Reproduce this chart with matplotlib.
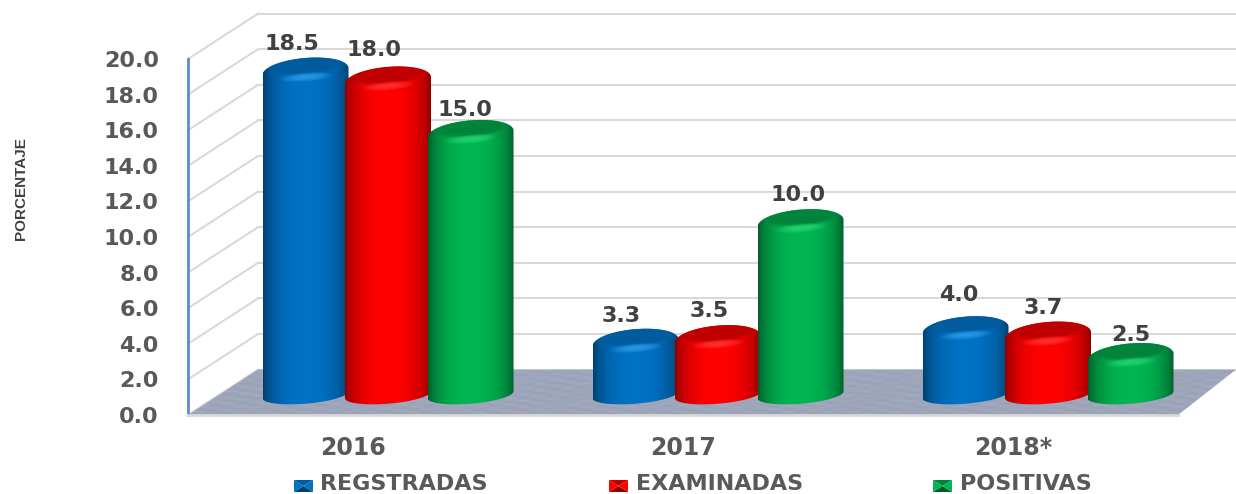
import matplotlib
matplotlib.use("Agg")
import matplotlib.pyplot as plt
import numpy as np
from matplotlib.patches import Polygon

# Data
years = ["2016", "2017", "2018*"]
registradas = [18.5, 3.3, 4.0]
examinadas = [18.0, 3.5, 3.7]
positivas = [15.0, 10.0, 2.5]
series_names = ["REGSTRADAS", "EXAMINADAS", "POSITIVAS"]
y_ticks = [0, 2, 4, 6, 8, 10, 12, 14, 16, 18, 20]

# Styles: (dark edge, body, top cap, highlight)
blue = ("#003f6e", "#0072c4", "#005c9e", "#2fa0ee")
red = ("#8e0000", "#ff0000", "#c00000", "#ff3a3a")
green = ("#005c2a", "#00b652", "#00843c", "#28d678")

# Label offsets in pixels, by series then year
label_dx = [[-14, -14, -7], [-14, -9, -5], [-6, -2, 0]]
label_dy = [[27, 27, 35], [30, 28, 28], [24, 28, 22]]

W, H = 1236, 494
fig = plt.figure(figsize=(W / 100, H / 100), dpi=100, facecolor="white")

# Front plane of the chart, value 0 to 20
ax = fig.add_axes([188 / W, 1 - 415 / H, 990 / W, 356 / H], facecolor="none")
ax.set_xlim(-0.5, 2.5)
ax.set_ylim(0, 20)
depth_x = 70 / 330
depth_y = 2.55
right_end = 2.5 + 58 / 330

# Walls
for v in y_ticks:
    ax.plot([-0.5, -0.5 + depth_x], [v, v + depth_y], color="#d9d9d9", lw=1.5, clip_on=False, zorder=1)
    ax.plot([-0.5 + depth_x, right_end], [v + depth_y, v + depth_y], color="#d9d9d9", lw=1.5, clip_on=False, zorder=1)

# Floor
xx, yy = np.meshgrid(np.linspace(0, 1, 500), np.linspace(0, 1, 30))
m1 = np.sin(xx * 211) * np.sin(yy * 47 + xx * 90)
m2 = np.sin(xx * 137 + yy * 31) * np.cos(yy * 71 - xx * 53)
floor_img = np.dstack([0.62 + 0.035 * m1, 0.65 + 0.03 * m2, 0.73 + 0.02 * m1])
floor = Polygon([(-0.5, 0), (-0.5 + depth_x, depth_y), (right_end, depth_y), (2.5, 0)],
                closed=True, transform=ax.transData, facecolor="none", edgecolor="none")
ax.add_patch(floor)
floor.set_clip_on(False)
im = ax.imshow(floor_img, extent=(-0.5, right_end, 0, depth_y), aspect="auto", zorder=2,
               interpolation="bilinear")
im.set_clip_path(floor)
im.set_clip_box(fig.bbox)
ax.set_xlim(-0.5, 2.5)
ax.set_ylim(0, 20)

ax.set_xticks([0, 1, 2])
ax.set_xticklabels(years)
ax.set_yticks(y_ticks)
ax.set_yticklabels([f"{v:.1f}" for v in y_ticks])
ax.tick_params(axis="x", length=0, pad=15, labelsize=17, labelcolor="#595959")
ax.tick_params(axis="y", length=0, pad=21, labelsize=16, labelcolor="#595959")
for lab in ax.get_xticklabels() + ax.get_yticklabels():
    lab.set_fontweight("bold")
ax.spines["top"].set_visible(False)
ax.spines["right"].set_visible(False)
ax.spines["left"].set_color("#5f8cc8")
ax.spines["left"].set_linewidth(2)
ax.spines["bottom"].set_color("#d9d9d9")
ax.spines["bottom"].set_linewidth(2)
ax.spines["left"].set_zorder(5)
ax.spines["bottom"].set_zorder(5)

fig.text(21 / W, 1 - 189 / H, "PORCENTAJE", rotation=90, ha="center", va="center", fontsize=11,
         color="#404040", fontweight="bold", family="Liberation Sans")

# Plane of the bars, half way into the depth
bx = fig.add_axes([223 / W, 1 - 437.2 / H, 990 / W, 392.5 / H], facecolor="none")
bx.set_xlim(-0.5, 2.5)
bx.set_ylim(-2, 20)
bx.axis("off")

px_x = 1 / 330
px_y = 1 / 17.84
half_w = 43 * px_x
top_b = 13.5 * px_y
base_b = 9 * px_y
base_v = 6.8 * px_y
tilt = 0.08 * (px_y / px_x)


def rgb(c):
    return np.array(matplotlib.colors.to_rgb(c))


def soft_ellipse(cx, cy, a, b, color, z, clip, peak=1.0, sharp=3.0):
    # ellipse that fades out at its rim, leaning with the bar
    xs = np.linspace(cx - a, cx + a, 120)
    ys = np.linspace(cy - b - tilt * a, cy + b + tilt * a, 80)
    gx, gy = np.meshgrid(xs, ys)
    d = ((gx - cx) / a) ** 2 + ((gy - cy - tilt * (gx - cx)) / b) ** 2
    alpha = np.clip((1 - d) * sharp, 0, 1) * peak
    img = np.zeros(gx.shape + (4,))
    img[..., :3] = rgb(color)
    img[..., 3] = alpha
    e = bx.imshow(img, extent=(xs[0], xs[-1], ys[0], ys[-1]), origin="lower", aspect="auto", zorder=z)
    e.set_clip_path(clip)


def cylinder(cx, value, style, z):
    dark, body, cap, light = style
    t = np.linspace(-1, 1, 100)
    th = np.linspace(np.pi, 0, 60)
    top_x = cx + half_w * np.cos(th)
    top_y = value + top_b * np.sin(th) + tilt * (top_x - cx)
    bot_x = top_x[::-1]
    bot_y = base_v - base_b * np.sin(th[::-1]) + tilt * (bot_x - cx)
    shape = Polygon(np.column_stack([np.r_[top_x, bot_x], np.r_[top_y, bot_y]]), closed=True,
                    transform=bx.transData, facecolor="none", edgecolor="none")
    bx.add_patch(shape)
    f = np.clip(1 - np.abs(t) ** 2.4, 0, 1) ** 0.75
    grad = rgb(dark)[None, :] * (1 - f[:, None]) + rgb(body)[None, :] * f[:, None]
    side = bx.imshow(grad[None, :, :], extent=(cx - half_w, cx + half_w, base_v - 2 * base_b, value + 2 * top_b),
                     aspect="auto", zorder=z, interpolation="bilinear")
    side.set_clip_path(shape)
    soft_ellipse(cx, value + 6 * px_y, half_w * 0.97, 10 * px_y, cap, z + 0.1, shape, sharp=2.2)
    soft_ellipse(cx, value - 5.5 * px_y, half_w * 0.62, 4.5 * px_y, light, z + 0.2, shape, peak=0.8, sharp=1.0)


bar_offsets = [-0.25, 0, 0.25]
all_series = [registradas, examinadas, positivas]
styles = [blue, red, green]
for s, (vals, style, off) in enumerate(zip(all_series, styles, bar_offsets)):
    for i, v in enumerate(vals):
        cylinder(i + off, v, style, 3 + s + i * 3)
        bx.annotate(f"{v:.1f}", xy=(i + off, v), xytext=(label_dx[s][i], label_dy[s][i]),
                    textcoords="offset pixels", ha="center", va="center", fontsize=16,
                    fontweight="bold", color="#404040", zorder=30, annotation_clip=False)
bx.set_xlim(-0.5, 2.5)
bx.set_ylim(-2, 20)

# Legend, drawn by hand in pixel coordinates because of the bevelled keys
lx = fig.add_axes([0, 0, 1, 1], facecolor="none")
lx.set_xlim(0, W)
lx.set_ylim(H, 0)
lx.axis("off")
for name, style, kx, tx in zip(series_names, styles, [294, 609, 933], [320, 636, 960]):
    dark, body, cap, light = style
    x0, x1, y0, y1, mx, my = kx, kx + 19, 480, 492, kx + 9.5, 486
    lx.add_patch(Polygon([(x0, y0), (x1, y0), (mx, my)], facecolor=cap, edgecolor="none"))
    lx.add_patch(Polygon([(x0, y1), (x1, y1), (mx, my)], facecolor=dark, edgecolor="none"))
    lx.add_patch(Polygon([(x0, y0), (x0, y1), (mx, my)], facecolor=body, edgecolor="none"))
    lx.add_patch(Polygon([(x1, y0), (x1, y1), (mx, my)], facecolor=body, edgecolor="none"))
    lx.text(tx, 484, name, ha="left", va="center", fontsize=16, fontweight="bold", color="#595959")

fig.savefig("out.png", dpi=100)
